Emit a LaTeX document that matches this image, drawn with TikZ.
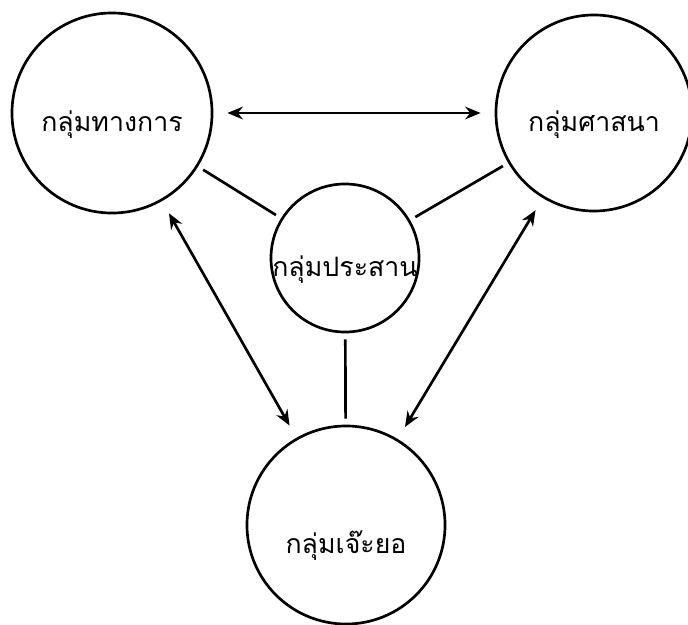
\documentclass[tikz,border=0pt]{standalone}
\usepackage{fontspec}
\newfontfamily\thaifont[Script=Thai]{Loma}
\usetikzlibrary{arrows.meta}
\begin{document}
\begin{tikzpicture}[x=0.025cm,y=-0.025cm,
    group/.style={draw,circle,line width=1.9pt,inner sep=0pt,text height=0.9cm,text depth=0pt,
      font=\thaifont\fontsize{19}{22}\selectfont},
    link/.style={line width=1.9pt,shorten <=0.15cm,shorten >=0.15cm},
    both/.style={line width=1.9pt,{Stealth[length=11pt,width=9pt]}-{Stealth[length=11pt,width=9pt]},
      shorten <=0.35cm,shorten >=0.35cm}]
  \useasboundingbox (0,0) rectangle (688,624);
  \draw
    (112,113) node[group,minimum size=5cm] (tang){กลุ่มทางการ}
    (594,113) node[group,minimum size=4.9cm] (sasana){กลุ่มศาสนา}
    (345,258) node[group,minimum size=3.7cm] (prasan){\makebox[0pt]{กลุ่มประสาน}}
    (346,525) node[group,minimum size=4.95cm,text height=1.4cm] (chaeyo){กลุ่มเจ๊ะยอ};
  \begin{scope}[link]
    \draw (tang) to (prasan);
    \draw (sasana) to (prasan);
    \draw (prasan) to (chaeyo);
  \end{scope}
  \begin{scope}[both]
    \draw (tang) to (sasana);
    \draw (tang) to (chaeyo);
    \draw (sasana) to (chaeyo);
  \end{scope}
\end{tikzpicture}
\end{document}
